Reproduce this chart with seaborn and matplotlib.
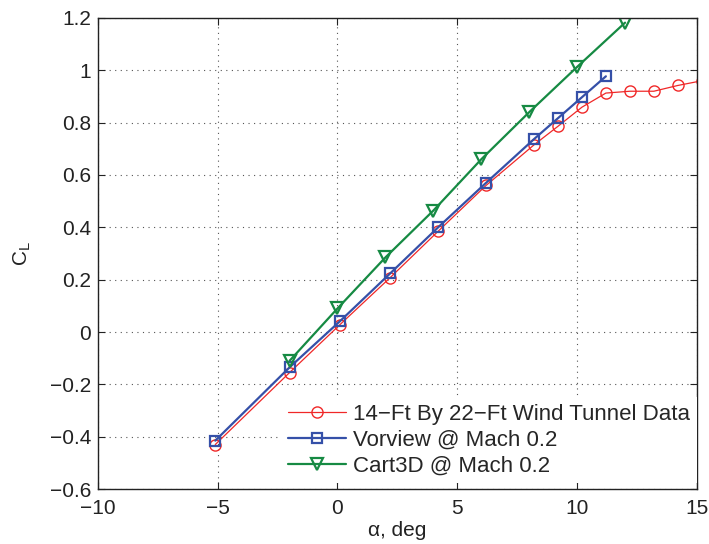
import matplotlib
matplotlib.use("Agg")
import matplotlib.pyplot as plt
import seaborn as sns
import pandas as pd

# ---- data ----
wt_alpha = [-5.1, -2.0, 0.1, 2.2, 4.2, 6.2, 8.2, 9.2, 10.2, 11.2, 12.2, 13.2, 14.2, 15.2]
wt_cl    = [-0.43, -0.155, 0.028, 0.208, 0.385, 0.56, 0.715, 0.786, 0.859, 0.913, 0.92, 0.92, 0.942, 0.96]

vv_alpha = [-5.1, -2.0, 0.1, 2.2, 4.2, 6.2, 8.2, 9.2, 10.2, 11.2]
vv_cl    = [-0.415, -0.135, 0.041, 0.224, 0.40, 0.57, 0.737, 0.817, 0.897, 0.977]

c3_alpha = [-2.0, 0.0, 2.0, 4.0, 6.0, 8.0, 10.0, 12.0]
c3_cl    = [-0.11, 0.09, 0.285, 0.464, 0.66, 0.84, 1.013, 1.182]

labels = ["14\u2212Ft By 22\u2212Ft Wind Tunnel Data",
          "Vorview @ Mach 0.2",
          "Cart3D @ Mach 0.2"]

x_ticks = [-10, -5, 0, 5, 10, 15]
y_ticks = [-0.6, -0.4, -0.2, 0, 0.2, 0.4, 0.6, 0.8, 1, 1.2]
y_tick_labels = ["\u22120.6", "\u22120.4", "\u22120.2", "0", "0.2", "0.4", "0.6", "0.8", "1", "1.2"]

sns.set_theme(style="white")
plt.rcParams['font.family'] = ['Liberation Sans', 'DejaVu Sans']
plt.rcParams['mathtext.default'] = 'regular'
plt.rcParams['axes.axisbelow'] = 'line'

fig = plt.figure(figsize=(7.09, 5.44), dpi=100)
ax = fig.add_axes([0.138, 0.101, 0.845, 0.866])

df_wt = pd.DataFrame({"alpha": wt_alpha, "CL": wt_cl})
df_vv = pd.DataFrame({"alpha": vv_alpha, "CL": vv_cl})
df_c3 = pd.DataFrame({"alpha": c3_alpha, "CL": c3_cl})

red = "#f02828"
blue = "#3550a8"
green = "#168a43"

sns.lineplot(data=df_wt, x="alpha", y="CL", ax=ax, color=red, lw=0.9,
             marker="o", markersize=8, markerfacecolor="none",
             markeredgecolor=red, markeredgewidth=1.0, label=labels[0],
             errorbar=None, sort=False)
sns.lineplot(data=df_vv, x="alpha", y="CL", ax=ax, color=blue, lw=1.6,
             marker="s", markersize=7, markerfacecolor="none",
             markeredgecolor=blue, markeredgewidth=1.6, label=labels[1],
             errorbar=None, sort=False)
sns.lineplot(data=df_c3, x="alpha", y="CL", ax=ax, color=green, lw=1.6,
             marker="v", markersize=9, markerfacecolor="none",
             markeredgecolor=green, markeredgewidth=1.6, label=labels[2],
             errorbar=None, sort=False)

ax.set_xlim(-10, 15)
ax.set_ylim(-0.6, 1.2)
ax.set_xticks(x_ticks)
ax.set_xticklabels([str(t).replace("-", "\u2212") for t in x_ticks])
ax.set_yticks(y_ticks)
ax.set_yticklabels(y_tick_labels)

ax.grid(True, linestyle=(0, (1, 4)), color="#555555", linewidth=0.8)
for s in ax.spines.values():
    s.set_visible(True)
    s.set_color("#222222")
    s.set_linewidth(1.0)
ax.tick_params(direction="in", length=5, width=0.8, top=True, right=True,
               bottom=True, left=True, labelsize=15, colors="#222222",
               labelcolor="#222222")
ax.tick_params(axis="x", pad=7)
ax.tick_params(axis="y", pad=5)

ax.set_xlabel("\u03b1, deg", fontsize=15, color="#222222", labelpad=2)
ax.set_ylabel("C$_L$", fontsize=15, color="#222222", labelpad=12)

leg = ax.legend(loc="lower right", fontsize=16, frameon=True, fancybox=False,
                edgecolor="white", facecolor="white", framealpha=1,
                borderaxespad=0.0, bbox_to_anchor=(1.0, 0.012),
                handlelength=2.6, labelspacing=0.22, borderpad=0.3,
                handletextpad=0.35)
leg.get_frame().set_linewidth(0.0)

fig.savefig("out.png", dpi=100)
